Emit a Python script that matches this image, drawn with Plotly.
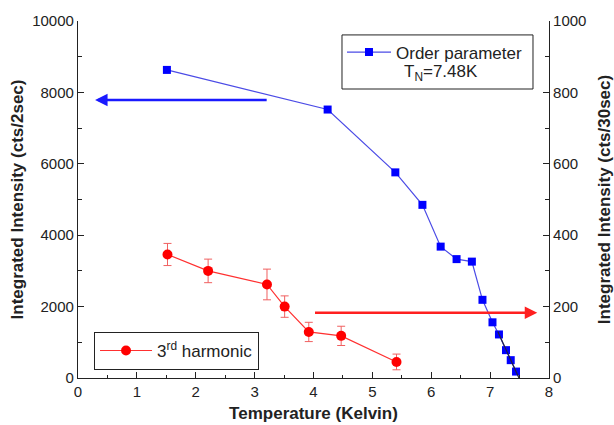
import plotly.graph_objects as go

# Order parameter (left axis, cts/2sec)
op_T = [1.51, 4.24, 5.39, 5.85, 6.16, 6.43, 6.69, 6.87, 7.04, 7.15, 7.27, 7.35, 7.44]
op_I = [8630, 7520, 5760, 4850, 3680, 3330, 3260, 2190, 1560, 1220, 780, 500, 180]

# 3rd harmonic (right axis, cts/30sec)
harm_T = [1.52, 2.21, 3.21, 3.51, 3.92, 4.47, 5.41]
harm_I = [346, 300, 262, 200, 129, 118, 45]
harm_err = [31, 33, 43, 30, 27, 27, 22]

# critical fit near T_N
fit_T = [7.13, 7.25, 7.35, 7.44, 7.49]
fit_I = [1300, 880, 520, 180, 0]

# arrows (tail, tip) in data units
blue_arrow = dict(tail=3.23, tip=0.29, level=7790)
red_arrow = dict(tail=4.0, tip=7.8, level=183)

FONT = "Liberation Sans, Arial, sans-serif"

fig = go.Figure()

fig.add_trace(go.Scatter(
    x=op_T, y=op_I, mode="lines+markers",
    name="Order parameter",
    line=dict(color="#4b4be6", width=1.2),
    marker=dict(symbol="square", size=8, color="#0000ff"),
    legend="legend",
))
fig.add_trace(go.Scatter(
    x=fit_T, y=fit_I, mode="lines", showlegend=False,
    line=dict(color="#202040", width=1.2),
))
fig.add_trace(go.Scatter(
    x=harm_T, y=harm_I, mode="lines+markers", yaxis="y2",
    name="3<sup>rd</sup> harmonic",
    line=dict(color="#ff3030", width=1.2),
    marker=dict(symbol="circle", size=10, color="#ff0000"),
    error_y=dict(type="data", array=harm_err, color="#f06060", thickness=1, width=4),
    legend="legend2",
))

fig.add_annotation(x=blue_arrow["tip"], y=blue_arrow["level"], ax=blue_arrow["tail"], ay=blue_arrow["level"],
                   xref="x", yref="y", axref="x", ayref="y", text="", showarrow=True,
                   arrowhead=2, arrowsize=1, arrowwidth=2.5, arrowcolor="#1a1aff")
fig.add_annotation(x=red_arrow["tip"], y=red_arrow["level"], ax=red_arrow["tail"], ay=red_arrow["level"],
                   xref="x", yref="y2", axref="x", ayref="y2", text="", showarrow=True,
                   arrowhead=2, arrowsize=1, arrowwidth=2.5, arrowcolor="#ff2020")

# order-parameter legend frame and T_N note
fig.add_shape(type="rect", xref="paper", yref="paper", x0=0.5605, x1=0.966, y0=0.8095, y1=0.961,
              line=dict(color="#222", width=1), fillcolor="rgba(0,0,0,0)", layer="above")
fig.add_annotation(xref="paper", yref="paper", x=0.771, y=0.853, xanchor="center", yanchor="middle",
                   text="T<sub>N</sub>=7.48K",
                   showarrow=False, font=dict(family=FONT, size=17, color="#222"))

axis_common = dict(showgrid=False, zeroline=False, showline=True, linecolor="#222", linewidth=1.2,
                   ticks="inside", tickcolor="#222", ticklen=6, automargin=False,
                   tickfont=dict(family=FONT, size=15, color="#222"))

fig.update_layout(
    width=614, height=425,
    margin=dict(l=78, r=65, t=21, b=47),
    paper_bgcolor="white", plot_bgcolor="white",
    font=dict(family=FONT, color="#222"),
    xaxis=dict(range=[0, 8], dtick=1, minor=dict(ticks="inside", ticklen=3, dtick=0.5, tickcolor="#222"),
               title=dict(text="<b>Temperature (Kelvin)</b>", font=dict(family=FONT, size=17), standoff=8),
               **axis_common),
    yaxis=dict(range=[0, 10000], dtick=2000, tickformat="d",
               minor=dict(ticks="inside", ticklen=4, dtick=1000, tickcolor="#222"),
               title=dict(text="<b>Integrated Intensity (cts/2sec)</b>", font=dict(family=FONT, size=17), standoff=4),
               **axis_common),
    yaxis2=dict(range=[0, 1000], dtick=200, overlaying="y", side="right",
                minor=dict(ticks="inside", ticklen=4, dtick=100, tickcolor="#222"),
                title=dict(text="<b>Integrated Intensity (cts/30sec)</b>", font=dict(family=FONT, size=17), standoff=12),
                **axis_common),
    legend=dict(x=0.5605, y=0.962, xanchor="left", yanchor="top", borderwidth=0, itemwidth=44,
                bgcolor="rgba(0,0,0,0)", font=dict(family=FONT, size=17, color="#222")),
    legend2=dict(x=0.034, y=0.129, xanchor="left", yanchor="top", bordercolor="#222", borderwidth=1,
                 itemwidth=52, bgcolor="white", font=dict(family=FONT, size=17, color="#222")),
)

fig.write_html("out.html", config={"displayModeBar": False},
               post_script="document.body.style.margin='0';")
